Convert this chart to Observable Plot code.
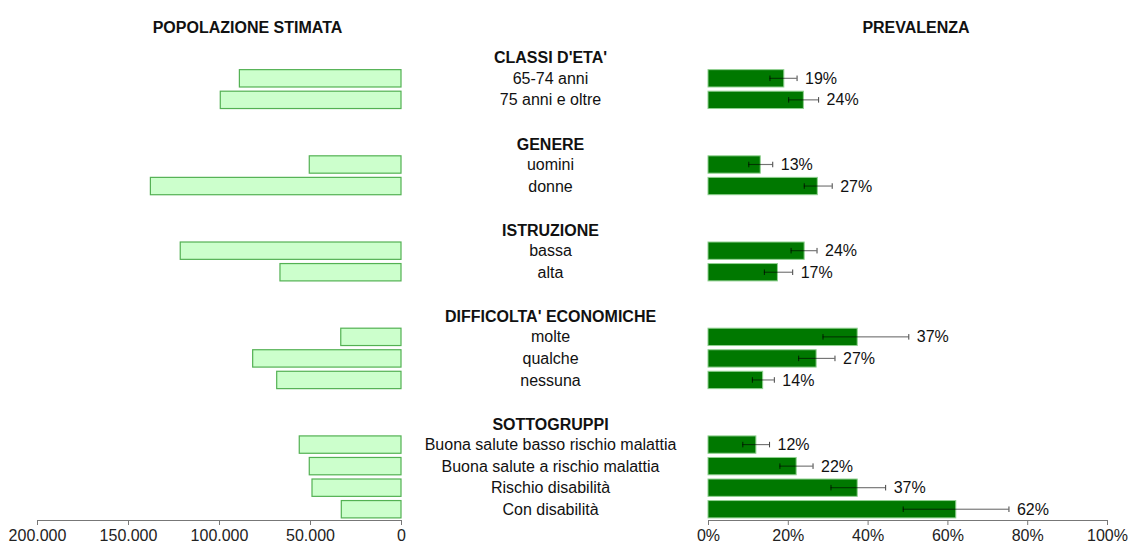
<!DOCTYPE html>
<html><head><meta charset="utf-8">
<script src="https://cdn.jsdelivr.net/npm/d3@7"></script>
<script src="https://cdn.jsdelivr.net/npm/@observablehq/plot@0.6"></script>
<style>
body{margin:0;background:#fff;}
#chart{position:relative;width:1128px;height:551px;overflow:hidden;}
#chart svg{position:absolute;top:0;}
</style>
</head><body><div id="chart"></div>
<script>
const groups = ["CLASSI D'ETA'", "GENERE", "ISTRUZIONE", "DIFFICOLTA' ECONOMICHE", "SOTTOGRUPPI"];
const categories = ["65-74 anni", "75 anni e oltre", "uomini", "donne", "bassa", "alta", "molte", "qualche", "nessuna",
  "Buona salute basso rischio malattia", "Buona salute a rischio malattia", "Rischio disabilità", "Con disabilità"];
const groupOf = [0, 0, 1, 1, 2, 2, 3, 3, 3, 4, 4, 4, 4];
const population = [88800, 99300, 50400, 137700, 121300, 66500, 33100, 81500, 68300, 55900, 50400, 48900, 32800];
const prevalence = [19.0, 23.9, 13.1, 27.4, 24.1, 17.4, 37.4, 27.1, 13.7, 12.0, 22.1, 37.4, 62.1];
const lower = [15.4, 20.1, 10.1, 24.0, 20.7, 14.0, 28.7, 22.6, 11.0, 8.6, 17.9, 30.7, 48.8];
const upper = [22.2, 27.6, 16.1, 31.0, 27.2, 21.1, 50.2, 31.7, 16.5, 15.3, 26.2, 44.4, 75.3];
const popTicks = [0, 50000, 100000, 150000, 200000];
const prevTicks = [0, 20, 40, 60, 80, 100];
const leftTitle = "POPOLAZIONE STIMATA";
const rightTitle = "PREVALENZA";

// build rows
const rows = [];
let idx = 0;
groups.forEach((g, gi) => {
  rows.push({row: idx++, label: g, header: true});
  categories.forEach((c, i) => {
    if (groupOf[i] === gi) rows.push({row: idx++, label: c, header: false,
      pop: population[i], prev: prevalence[i], lo: lower[i], hi: upper[i]});
  });
  if (gi < groups.length - 1) idx++;
});
const data = rows.filter(d => !d.header);
const yDomain = d3.range(idx);

const H = 551, MT = 46, MB = 31;
const font = {fontFamily: "'Liberation Sans', Arial, sans-serif", fontSize: "16px", overflow: "visible", maxWidth: "none", background: "transparent", color: "#222"};
const yScale = {type: "band", domain: yDomain, padding: 0, round: false, axis: null};
const itFmt = d3.formatLocale({decimal: ",", thousands: ".", grouping: [3], currency: ["", "€"]}).format(",d");

const left = Plot.plot({
  width: 420, height: H, marginLeft: 37, marginRight: 19, marginTop: MT, marginBottom: MB,
  style: font,
  x: {domain: [0, 200000], reverse: true, axis: null},
  y: yScale,
  marks: [
    Plot.barX(data, {x1: 0, x2: "pop", y: "row", fill: "#ccffcc", stroke: "#53b153", strokeWidth: 1.2, insetTop: 2.1, insetBottom: 2.1}),
    Plot.frame({anchor: "bottom", stroke: "#777"}),
    Plot.axisX({ticks: popTicks, tickFormat: itFmt, tickSize: 5, tickPadding: 4, stroke: "#777", fill: "#222", label: null, fontSize: 16}),
    Plot.text([leftTitle], {text: d => d, frameAnchor: "top", dx: 28, dy: -24.5, fontWeight: "bold", fontSize: 16, fill: "#111"})
  ]
});

const center = Plot.plot({
  width: 260, height: H, marginLeft: 0, marginRight: 0, marginTop: MT, marginBottom: MB,
  style: font,
  y: yScale,
  marks: [
    Plot.text(rows.filter(d => d.header), {y: "row", text: "label", frameAnchor: "middle", dy: 1, fontWeight: "bold", fontSize: 16, fill: "#111"}),
    Plot.text(data, {y: "row", text: "label", frameAnchor: "middle", fontSize: 16, fill: "#111"})
  ]
});

const right = Plot.plot({
  width: 448, height: H, marginLeft: 28, marginRight: 21, marginTop: MT, marginBottom: MB,
  style: font,
  x: {domain: [0, 100], axis: null},
  y: yScale,
  marks: [
    Plot.barX(data, {x1: 0, x2: "prev", y: "row", fill: "#007800", stroke: "#8fd08f", strokeWidth: 1, insetTop: 2.1, insetBottom: 2.1}),
    Plot.barX(data, {x1: "lo", x2: "hi", y: "row", fill: "#000", fillOpacity: 0.55, insetTop: 10.2, insetBottom: 10.2}),
    Plot.tickX(data, {x: "lo", y: "row", stroke: "#000", strokeOpacity: 0.75, insetTop: 8, insetBottom: 8}),
    Plot.tickX(data, {x: "hi", y: "row", stroke: "#000", strokeOpacity: 0.75, insetTop: 8, insetBottom: 8}),
    Plot.text(data, {x: "hi", y: "row", text: d => Math.round(d.prev) + "%", textAnchor: "start", dx: 8, fontSize: 16, fill: "#111"}),
    Plot.frame({anchor: "bottom", stroke: "#777"}),
    Plot.axisX({ticks: prevTicks, tickFormat: d => d + "%", tickSize: 5, tickPadding: 4, stroke: "#777", fill: "#222", label: null, fontSize: 16}),
    Plot.text([rightTitle], {text: d => d, frameAnchor: "top", dx: 8, dy: -24.5, fontWeight: "bold", fontSize: 16, fill: "#111"})
  ]
});

const chart = document.getElementById("chart");
left.style.left = "0px";
center.style.left = "420px";
right.style.left = "680px";
chart.append(left, center, right);
</script>
</body></html>
